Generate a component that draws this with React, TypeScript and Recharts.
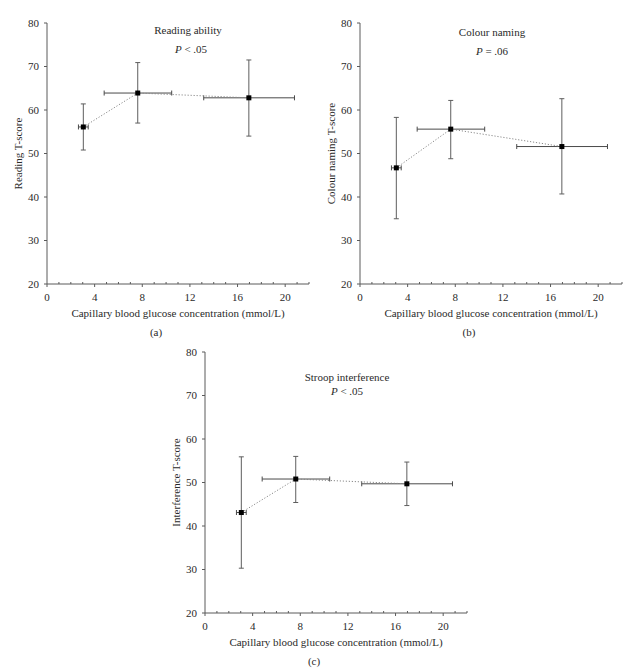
import React from 'react';
import { ScatterChart, Scatter, XAxis, YAxis, ErrorBar } from 'recharts';

// glucose groups (same for all three panels)
const glucoseMean = [3.05, 7.62, 16.95];
const glucoseLow = [2.64, 4.8, 13.16];
const glucoseHigh = [3.46, 10.47, 20.78];

const readingMean = [56.1, 63.9, 62.8];
const readingLow = [50.8, 57.0, 54.0];
const readingHigh = [61.4, 70.9, 71.5];

const colourMean = [46.7, 55.6, 51.6];
const colourLow = [35.0, 48.8, 40.7];
const colourHigh = [58.3, 62.2, 62.6];

const interferenceMean = [43.1, 50.8, 49.7];
const interferenceLow = [30.3, 45.4, 44.7];
const interferenceHigh = [55.9, 56.0, 54.7];

const xTicks = Array.from({ length: 23 }, (_, i) => i);
const yTicks = [20, 30, 40, 50, 60, 70, 80];

const FONT = '"Liberation Serif", "DejaVu Serif", serif';
const AXIS = '#5a5a5a';
const TEXT = '#2a2a2a';

const buildRows = (yMean: number[], yLow: number[], yHigh: number[]) =>
    glucoseMean.map((x, i) => ({
        x,
        y: yMean[i],
        ex: [x - glucoseLow[i], glucoseHigh[i] - x],
        ey: [yMean[i] - yLow[i], yHigh[i] - yMean[i]],
    }));

const XTick = (props: any) => {
    const { x, y, payload } = props;
    const axisY = y - 7;
    const v = payload.value;
    if (v % 4 === 0) {
        return (
            <g>
                <line x1={x} x2={x} y1={axisY} y2={axisY + 3} stroke={AXIS} />
                <text x={x} y={axisY + 17} textAnchor="middle" fontSize={11} fontFamily={FONT} fill={TEXT}>{v}</text>
            </g>
        );
    }
    return <line x1={x} x2={x} y1={axisY} y2={axisY - 2} stroke={AXIS} />;
};

const Square = (props: any) => (
    <rect x={props.cx - 2.5} y={props.cy - 2.5} width={5} height={5} fill="#000" />
);

const Panel: React.FC<{
    left: number; top: number; rows: any[]; yLabel: string;
    title: string; stat: string; op: string; caption: string;
    titleX: number; titleY: number; statX: number; statY: number;
}> = ({ left, top, rows, yLabel, title, stat, op, caption, titleX, titleY, statX, statY }) => (
    <div style={{ position: 'absolute', left, top }}>
        <ScatterChart width={320} height={342} margin={{ top: 23, right: 11, bottom: 28, left: 0 }}>
            <XAxis type="number" dataKey="x" domain={[0, 22]} ticks={xTicks} interval={0}
                tickLine={false} tickSize={3} tickMargin={4} height={30}
                axisLine={{ stroke: AXIS }} tick={<XTick />} />
            <YAxis type="number" dataKey="y" domain={[20, 80]} ticks={yTicks} interval={0} width={47}
                tickSize={3} tickMargin={5} axisLine={{ stroke: AXIS }} tickLine={{ stroke: AXIS }}
                tick={{ fontSize: 11, fontFamily: FONT, fill: TEXT }} />
            <Scatter data={rows} isAnimationActive={false} shape={<Square />}
                line={{ stroke: '#8a8a8a', strokeDasharray: '1.2 1.8', strokeWidth: 1 }} lineType="joint">
                <ErrorBar dataKey="ex" direction="x" width={2.5} stroke="#4a4a4a" strokeWidth={1} isAnimationActive={false} />
                <ErrorBar dataKey="ey" direction="y" width={2.5} stroke="#5e5e5e" strokeWidth={1} isAnimationActive={false} />
            </Scatter>
            <text x={22} y={153.5} transform="rotate(-90, 22, 153.5)" textAnchor="middle"
                fontSize={11} fontFamily={FONT} fill={TEXT}>{yLabel}</text>
            <text x={titleX} y={titleY} textAnchor="middle" fontSize={11} fontFamily={FONT} fill={TEXT}>{title}</text>
            <text x={statX} y={statY} textAnchor="middle" fontSize={11} fontFamily={FONT} fill={TEXT}>
                <tspan fontStyle="italic">P</tspan>{` ${op} ${stat}`}
            </text>
            <text x={178} y={317} textAnchor="middle" fontSize={11} fontFamily={FONT} fill={TEXT}>
                Capillary blood glucose concentration (mmol/L)
            </text>
            <text x={156} y={336} textAnchor="middle" fontSize={11} fontFamily={FONT} fill={TEXT}>{caption}</text>
        </ScatterChart>
    </div>
);

const App: React.FC = () => (
    <div style={{ position: 'absolute', left: 0, top: 0, width: 634, height: 672, background: '#fff' }}>
        <Panel left={0} top={0} rows={buildRows(readingMean, readingLow, readingHigh)}
            yLabel="Reading T-score" title="Reading ability" op="<" stat=".05" caption="(a)"
            titleX={188} titleY={34} statX={191} statY={53} />
        <Panel left={313} top={0} rows={buildRows(colourMean, colourLow, colourHigh)}
            yLabel="Colour naming T-score" title="Colour naming" op="=" stat=".06" caption="(b)"
            titleX={179} titleY={36} statX={179} statY={55} />
        <Panel left={158} top={329} rows={buildRows(interferenceMean, interferenceLow, interferenceHigh)}
            yLabel="Interference T-score" title="Stroop interference" op="<" stat=".05" caption="(c)"
            titleX={189} titleY={52} statX={189} statY={66} />
    </div>
);

export default App;
